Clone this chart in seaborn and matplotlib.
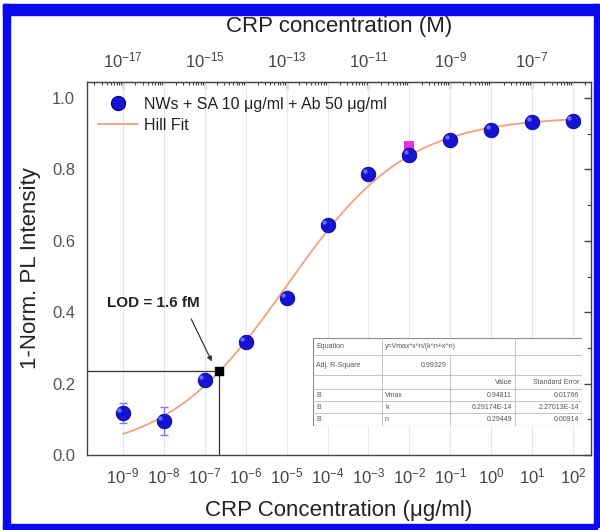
import numpy as np
import pandas as pd
import matplotlib
matplotlib.use("Agg")
import matplotlib.pyplot as plt
import seaborn as sns
from matplotlib.ticker import (FixedLocator, LogLocator, MultipleLocator,
                               LogFormatterSciNotation, NullFormatter)
from matplotlib.lines import Line2D
from matplotlib.patches import Rectangle

# ---------------- data ----------------
conc_ugml = [1e-9, 1e-8, 1e-7, 1e-6, 1e-5, 1e-4, 1e-3, 1e-2, 1e-1, 1e0, 1e1, 1e2]
response = [0.118, 0.095, 0.21, 0.317, 0.44, 0.644, 0.787, 0.84, 0.882, 0.91, 0.933, 0.935]
response_err = [0.028, 0.04, 0.012, 0.01, 0.01, 0.01, 0.01, 0.01, 0.01, 0.01, 0.008, 0.008]
highlight_conc = [1e-2]
highlight_resp = [0.866]

# Hill fit parameters (curve, in ug/ml)
hill_vmax = 0.94811
hill_k_ugml = 1.0e-5
hill_n = 0.29449
M_PER_UGML = 1e-8          # conversion used for the top axis

lod_conc = 2.2e-7
lod_resp = 0.235
lod_label = "LOD = 1.6 fM"

bottom_ticks = [1e-9, 1e-8, 1e-7, 1e-6, 1e-5, 1e-4, 1e-3, 1e-2, 1e-1, 1e0, 1e1, 1e2]
top_ticks = [1e-17, 1e-15, 1e-13, 1e-11, 1e-9, 1e-7]

table_rows = [
    ["Equation", "y=Vmax*x^n/(k^n+x^n)", "", ""],
    ["Adj. R-Square", "0.99329", "", ""],
    ["", "", "Value", "Standard Error"],
    ["B", "Vmax", "0.94811", "0.01766"],
    ["B", "k", "6.29174E-14", "2.27013E-14"],
    ["B", "n", "0.29449", "0.00914"],
]

# ---------------- style ----------------
sns.set_style("white")
plt.rcParams["font.family"] = ["Liberation Sans", "DejaVu Sans"]
plt.rcParams["mathtext.default"] = "regular"

fig = plt.figure(figsize=(6.0, 5.3), dpi=100)
ax = fig.add_axes([87 / 600, 1 - 455 / 530, (591 - 87) / 600, (455 - 82) / 530])

# blue frame around the figure
blue = "#0a0aee"
W, H = 600.0, 530.0
for (x0, y0, w, h) in [(3, 4, 594, 11), (3, 4, 7, 523), (594, 4, 6, 523), (3, 524, 594, 6)]:
    fig.patches.append(Rectangle((x0 / W, 1 - (y0 + h) / H), w / W, h / H,
                                 transform=fig.transFigure, color=blue, zorder=10))

df = pd.DataFrame({"conc": conc_ugml, "resp": response, "err": response_err})

# Hill fit curve
x_fit = np.logspace(np.log10(conc_ugml[0]), np.log10(conc_ugml[-1]), 400)
y_fit = hill_vmax * x_fit ** hill_n / (hill_k_ugml ** hill_n + x_fit ** hill_n)
fit_df = pd.DataFrame({"conc": x_fit, "resp": y_fit})
fit_color = "#f2a080"
sns.lineplot(data=fit_df, x="conc", y="resp", ax=ax, color=fit_color, lw=1.3, zorder=2)

# error bars + points
ax.errorbar(df["conc"], df["resp"], yerr=df["err"], fmt="none", ecolor="#7a7aff",
            elinewidth=1.0, capsize=3, capthick=1.0, zorder=3)
pt_color = "#1414d2"
sns.scatterplot(data=df, x="conc", y="resp", ax=ax, s=110, color=pt_color,
                edgecolor="#05058a", linewidth=0.6, zorder=4)
# small highlight to suggest spheres
ax.scatter(np.array(conc_ugml) * 0.82, np.array(response) + 0.008, s=10, color="#6a6aff",
           linewidth=0, zorder=5)
ax.scatter(highlight_conc, highlight_resp, marker="s", s=50, color="#e632e6",
           linewidth=0, zorder=3.5)

# LOD lines and marker
xlim = (10 ** (-9 - 36 / 40.91), 10 ** (-9 + (591 - 123) / 40.91))
ax.set_xscale("log")
ax.set_xlim(*xlim)
ax.set_ylim(0, (455 - 82) / 357)
ax.plot([xlim[0], lod_conc], [lod_resp, lod_resp], color="#333333", lw=0.9, zorder=1.5)
ax.plot([lod_conc, lod_conc], [0, lod_resp], color="#333333", lw=0.9, zorder=1.5)
ax.scatter([lod_conc], [lod_resp], marker="s", s=28, color="black", zorder=6)
ax.text(10 ** (-9 - 16 / 40.91), 0.426, lod_label, fontsize=11, fontweight="bold",
        ha="left", va="center", color="#222222")
ax.annotate("", xy=(10 ** (-9 + 90 / 40.91), 0.255), xytext=(10 ** (-9 + 67 / 40.91), 0.388),
            arrowprops=dict(arrowstyle="-|>", color="#333333", lw=0.9, mutation_scale=7))

# axes styling
ax.grid(axis="x", which="major", color="#e8e8e8", lw=0.8)
ax.set_axisbelow(True)
for s in ax.spines.values():
    s.set_color("#444444")
    s.set_linewidth(1.0)
    s.set_visible(True)

ax.xaxis.set_major_locator(FixedLocator(bottom_ticks))
ax.xaxis.set_major_formatter(LogFormatterSciNotation())
ax.xaxis.set_minor_locator(LogLocator(base=10, subs=np.arange(2, 10), numticks=50))
ax.xaxis.set_minor_formatter(NullFormatter())
ax.yaxis.set_major_locator(MultipleLocator(0.2))
ax.yaxis.set_minor_locator(MultipleLocator(0.1))
ax.yaxis.set_major_formatter(plt.FuncFormatter(lambda v, p: f"{v:.1f}"))

ax.tick_params(axis="x", which="major", direction="out", length=5, width=1,
               labelsize=12, labelcolor="#444444", color="#444444", pad=3)
ax.tick_params(axis="x", which="minor", direction="out", length=2.5, width=0.8, color="#444444")
ax.tick_params(axis="y", which="major", direction="out", length=5, width=1,
               labelsize=12, labelcolor="#555555", color="#444444", right=True)
ax.tick_params(axis="y", which="minor", direction="out", length=3, width=0.8,
               color="#444444", right=True)
for t in ax.yaxis.get_major_ticks() + ax.yaxis.get_minor_ticks():
    t.tick2line.set_marker(matplotlib.markers.TICKLEFT)

ax.set_xlabel("CRP Concentration (μg/ml)", fontsize=16, color="#222222", labelpad=10)
ax.set_ylabel("1-Norm. PL Intensity", fontsize=16, color="#222222", labelpad=8)

# top axis in molar
secax = ax.secondary_xaxis("top", functions=(lambda x: x * M_PER_UGML, lambda x: x / M_PER_UGML))
secax.xaxis.set_major_locator(FixedLocator(top_ticks))
secax.xaxis.set_major_formatter(LogFormatterSciNotation())
secax.xaxis.set_minor_locator(LogLocator(base=10, subs=np.arange(1, 10), numticks=60))
secax.xaxis.set_minor_formatter(NullFormatter())
secax.tick_params(axis="x", which="major", direction="in", length=5, width=1,
                  labelsize=12, labelcolor="#444444", color="#444444", pad=8)
secax.tick_params(axis="x", which="minor", direction="in", length=2.5, width=0.8, color="#444444")
secax.spines["top"].set_color("#444444")
secax.set_xlabel("CRP concentration (M)", fontsize=16, color="#222222", labelpad=14)

# legend
handles = [
    Line2D([], [], marker="o", ls="none", markersize=10, markerfacecolor=pt_color,
           markeredgecolor="#05058a"),
    Line2D([], [], color=fit_color, lw=1.3),
]
labels = ["NWs + SA 10 μg/ml + Ab 50 μg/ml", "Hill Fit"]
ax.legend(handles, labels, loc="upper left", bbox_to_anchor=(0.0, 0.99), frameon=False,
          fontsize=11.5, handlelength=2.5, handletextpad=0.4, labelspacing=0.35,
          borderaxespad=0.3, labelcolor="#222222")

# inset fit table
tx0, tx1, ty0, ty1 = 313, 582, 338, 426
tab = fig.add_axes([tx0 / W, 1 - ty1 / H, (tx1 - tx0) / W, (ty1 - ty0) / H])
tab.set_xlim(tx0, tx1)
tab.set_ylim(ty1, ty0)
tab.axis("off")
tab.add_patch(Rectangle((tx0, ty0), tx1 - tx0, ty1 - ty0, facecolor="white",
                        edgecolor="#888888", lw=0.8))
col_edges = [313, 382, 450, 515, 582]
row_edges = [338, 355, 375, 389, 401, 413, 426]
for r in row_edges[1:-1]:
    tab.plot([tx0, tx1], [r, r], color="#bbbbbb", lw=0.6)
for i, c in enumerate(col_edges[1:-1], start=1):
    if i == 2:
        tab.plot([c, c], [row_edges[1], ty1], color="#bbbbbb", lw=0.6)
    else:
        tab.plot([c, c], [ty0, ty1], color="#bbbbbb", lw=0.6)
for ri, row in enumerate(table_rows):
    yc = (row_edges[ri] + row_edges[ri + 1]) / 2
    for ci, txt in enumerate(row):
        if not txt:
            continue
        if ci == 0 or (ri == 0 and ci == 1) or (ci == 1 and ri >= 3):
            tab.text(col_edges[ci] + 3, yc, txt, fontsize=5, color="#555555",
                     ha="left", va="center")
        else:
            tab.text(col_edges[ci + 1] - 3, yc, txt, fontsize=5, color="#555555",
                     ha="right", va="center")

fig.savefig("out.png", dpi=100)
